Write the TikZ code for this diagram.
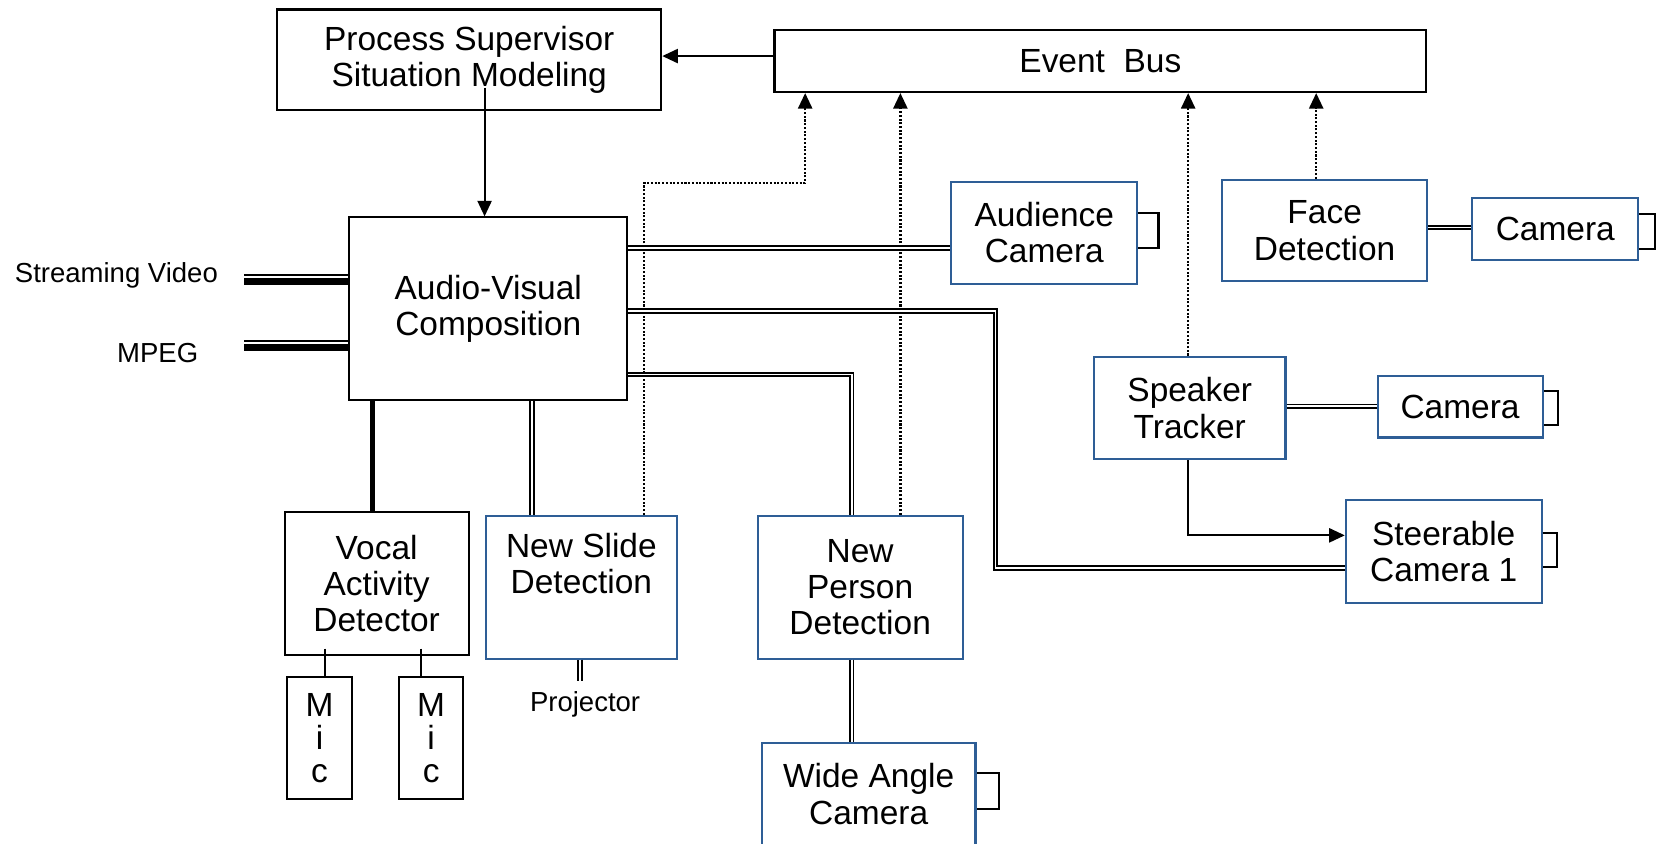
\documentclass[tikz,border=0pt]{standalone}
\usepackage{fontspec}
\setmainfont{Liberation Sans}
\usetikzlibrary{arrows.meta}
\definecolor{boxblue}{RGB}{46,94,150}

\begin{document}
\begin{tikzpicture}[x=0.1mm, y=-0.1mm, >={Triangle[length=4.2pt,width=3.8pt]},
  box/.style={draw, line width=0.55pt, inner sep=0pt, align=center, font=\fontsize{9}{9.8}\selectfont},
  bbox/.style={box, draw=boxblue},
  sz/.style 2 args={minimum width=#1cm, minimum height=#2cm},
  dbl/.style={double, line width=0.5pt, double distance=0.45pt},
  bus/.style={->, line width=0.6pt, dash pattern=on 0.55pt off 0.45pt},
  lbl/.style={font=\fontsize{7.4}{8}\selectfont},
  tick/.style={line width=0.55pt}]
\path[use as bounding box, clip] (0,0) rectangle (1568,797);

% boxes
\node[box, sz={3.63}{0.95}] (ps) at (443.5,56.5) {Process Supervisor\\Situation Modeling};
\node[box, sz={6.16}{0.59}] (eb) at (1040,57.5) {Event\ \ Bus};
\node[box, sz={2.63}{1.73}] (av) at (461.5,292) {Audio-Visual\\Composition};
\node[box, sz={1.74}{1.35}] (vad) at (356,551.5) {Vocal\\Activity\\Detector};
\node[bbox, sz={1.81}{1.35}] (nsd) at (549.5,555) {New Slide\\Detection\\[3pt]\mbox{}};
\node[bbox, sz={1.94}{1.35}] (npd) at (813,555) {New\\Person\\Detection};
\node[bbox, sz={2.02}{1.1}] (wac) at (821,757) {Wide Angle\\Camera\\[-6pt]\mbox{}};
\node[bbox, sz={1.76}{0.96}] (ac) at (987,220) {Audience\\Camera};
\node[bbox, sz={1.94}{0.96}] (fd) at (1252,218) {Face\\Detection};
\node[bbox, sz={1.57}{0.59}] (cam1) at (1470,216.5) {Camera};
\node[bbox, sz={1.81}{0.97}] (st) at (1124.5,385.5) {Speaker\\Tracker};
\node[bbox, sz={1.56}{0.58}] (cam2) at (1380,384.5) {Camera};
\node[bbox, sz={1.85}{0.97}] (sc) at (1364.5,521.5) {Steerable\\Camera 1};
\node[box, sz={0.61}{1.15}, font=\fontsize{9}{8.8}\selectfont] (mic1) at (302,697.5) {M\\i\\c};
\node[box, sz={0.61}{1.15}, font=\fontsize{9}{8.8}\selectfont] (mic2) at (407.5,697.5) {M\\i\\c};

% labels
\node[lbl] (sv) at (110,260) {Streaming Video};
\node[lbl] (mp) at (149,334) {MPEG};
\node[lbl] (pj) at (553,666) {Projector};
\coordinate (svin) at (231,260);
\coordinate (mpin) at (231,322);
\coordinate (psout) at (458,83);

% control
\draw[->, line width=0.55pt] (eb.west |- 0,53) -- (ps.east |- 0,53);
\draw[->, line width=0.55pt] (psout) -- (av.north -| psout);
\draw[->, line width=0.55pt] (st.south -| 1123,0) |- (sc.west |- 0,506);

% streams in
\foreach \n in {svin, mpin} {
 \draw[line width=0.45pt] (\n) -- (av.west |- \n);
 \draw[line width=1.9pt] ([yshift=-0.65mm]\n) -- ([yshift=-0.65mm]av.west |- \n);
}

% video / audio links
\draw[line width=1.2pt] (av.south -| 352,0) -- (vad.north -| 352,0);
\draw[dbl] (av.south -| 503,0) -- (nsd.north -| 503,0);
\draw[dbl] (av.east |- 0,234.5) -- (ac.west |- 0,234.5);
\draw[dbl] (av.east |- 0,294) -| (941,537) -- (sc.west |- 0,537);
\draw[dbl] (av.east |- 0,354) -| (npd.north -| 805,0);
\draw[dbl] (npd.south -| 805,0) -- (wac.north -| 805,0);
\draw[dbl] (nsd.south -| 548,0) -- ++(0,20);
\draw[dbl] (fd.east |- 0,215) -- (cam1.west |- 0,215);
\draw[dbl] (st.east |- 0,384) -- (cam2.west |- 0,384);
\draw[tick] (307,613) -- (mic1.north -| 307,0);
\draw[tick] (397.5,613) -- (mic2.north -| 397.5,0);

% events
\draw[bus] (nsd.north -| 609,0) |- (761,173) -- (eb.south -| 761,0);
\draw[bus] (npd.north -| 851,0) -- (eb.south -| 851,0);
\draw[bus] (st.north -| 1123,0) -- (eb.south -| 1123,0);
\draw[bus] (fd.north -| 1244,0) -- (eb.south -| 1244,0);

% lens marks
\foreach \n/\a/\b/\w in {ac/201/234/19, cam1/202/235/15, cam2/370/402/14, sc/504/536/14, wac/731/765/21}
 \draw[tick] (\n.east |- 0,\a) -- ++(\w,0) |- (\n.east |- 0,\b);
\end{tikzpicture}
\end{document}
